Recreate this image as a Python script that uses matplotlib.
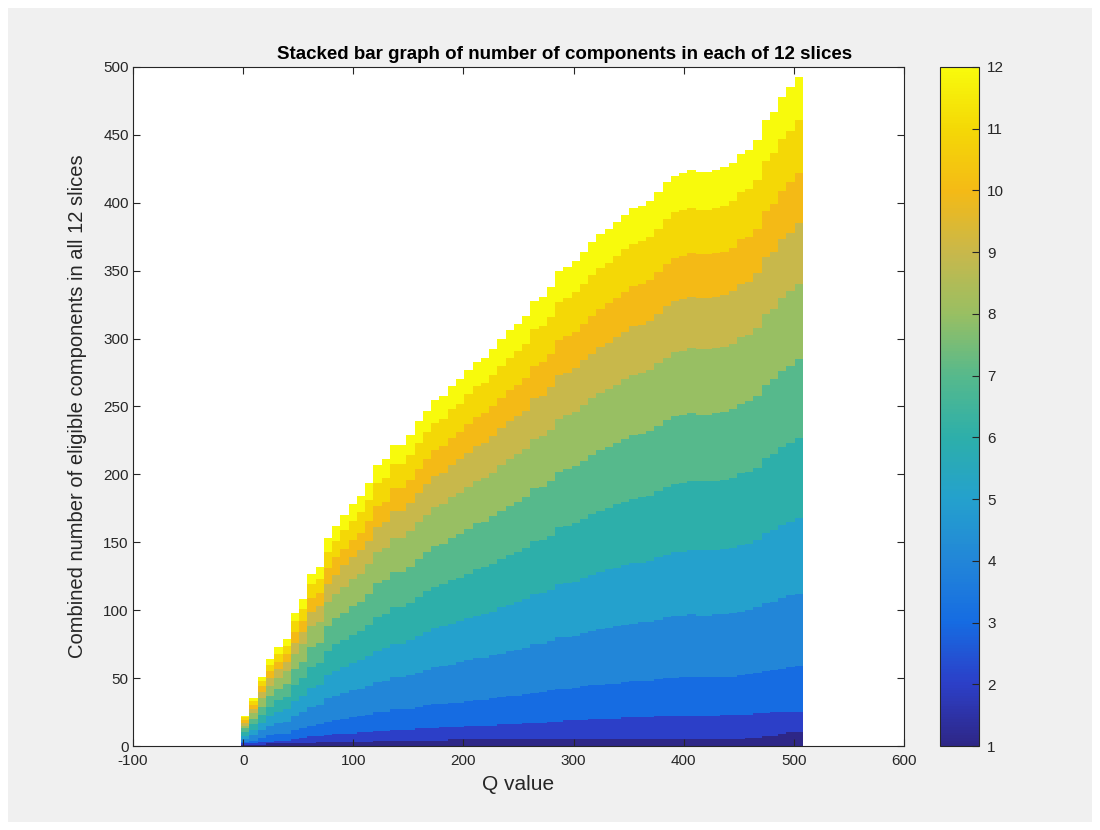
import matplotlib
matplotlib.use("Agg")
import matplotlib.pyplot as plt
from matplotlib.colors import LinearSegmentedColormap, Normalize
from matplotlib.cm import ScalarMappable
from matplotlib.patches import Rectangle

plt.rcParams['font.family'] = ['Liberation Sans', 'DejaVu Sans']
plt.rcParams['axes.unicode_minus'] = False

# Q values (bar positions)
q_values = [2, 9.5, 17, 24.5, 32, 39.5, 47, 54.5, 62, 69.5, 77, 84.5, 92, 99.5, 107, 114.5,
            122, 129.5, 137, 144.5, 152, 159.5, 167, 174.5, 182, 189.5, 197, 204.5, 212, 219.5,
            227, 234.5, 242, 249.5, 257, 264.5, 272, 279.5, 287, 294.5, 302, 309.5, 317, 324.5,
            332, 339.5, 347, 354.5, 362, 369.5, 377, 384.5, 392, 399.5, 407, 414.5, 422, 429.5,
            437, 444.5, 452, 459.5, 467, 474.5, 482, 489.5, 497, 504.5]

# cumulative count at the top of each slice (slice 1 .. slice 11), and the total (top of slice 12)
top_slice1 = [1, 1, 1, 2, 2, 2, 2, 2, 2, 3, 3, 3, 3, 3, 3, 3, 4, 4, 4, 4, 4, 4, 4, 4, 4,
              5, 5, 5, 5, 5, 5, 5, 5, 5, 5, 5, 5, 5, 5, 5, 5, 5, 5, 5, 5, 5, 5, 5, 5, 5,
              5, 5, 5, 5, 5, 5, 5, 5, 5, 5, 5, 6, 6, 7, 7, 9, 10, 10]
top_slice2 = [2, 2, 3, 3, 4, 4, 5, 6, 7, 7, 8, 9, 9, 9, 10, 10, 11, 11, 12, 12, 12, 13, 13, 13,
              14, 14, 14, 15, 15, 15, 15, 16, 16, 16, 17, 17, 17, 18, 18, 19, 19, 19, 20, 20,
              20, 20, 21, 21, 21, 21, 22, 22, 22, 22, 22, 22, 22, 22, 23, 23, 23, 23, 24, 24,
              25, 25, 25, 25]
top_slice3 = [3, 4, 6, 8, 9, 9, 12, 13, 15, 16, 18, 19, 20, 21, 22, 23, 25, 25, 27, 27, 27, 29,
              30, 31, 31, 32, 32, 33, 34, 34, 35, 36, 37, 37, 38, 39, 40, 41, 42, 42, 43, 44,
              45, 45, 46, 46, 47, 48, 48, 48, 49, 50, 50, 51, 51, 51, 51, 51, 51, 51, 52, 53,
              54, 55, 56, 57, 58, 59]
top_slice4 = [5, 8, 12, 15, 17, 18, 22, 25, 29, 30, 35, 37, 39, 41, 42, 44, 47, 48, 51, 51, 52,
              54, 56, 58, 59, 60, 62, 63, 65, 65, 67, 68, 70, 71, 72, 75, 75, 77, 80, 80, 81,
              83, 85, 86, 87, 88, 89, 90, 91, 91, 93, 95, 96, 96, 97, 96, 96, 97, 97, 98, 99,
              100, 102, 105, 106, 109, 111, 112]
top_slice5 = [7, 12, 17, 22, 25, 27, 33, 37, 43, 45, 52, 55, 58, 61, 63, 66, 70, 72, 75, 75, 78,
              81, 84, 87, 88, 90, 92, 94, 96, 97, 99, 102, 104, 106, 108, 112, 113, 115, 119,
              120, 121, 124, 126, 128, 130, 131, 133, 135, 135, 136, 139, 141, 143, 143, 144,
              144, 144, 144, 145, 146, 148, 149, 152, 157, 159, 163, 165, 168]
top_slice6 = [10, 16, 23, 29, 34, 36, 45, 50, 58, 61, 70, 75, 78, 82, 85, 89, 95, 97, 102, 102,
              105, 110, 114, 117, 119, 122, 124, 127, 130, 132, 134, 138, 141, 143, 146, 151,
              152, 155, 161, 162, 164, 167, 171, 173, 175, 178, 180, 182, 183, 184, 188, 191,
              193, 194, 195, 195, 195, 195, 196, 197, 201, 202, 205, 212, 215, 220, 223, 227]
top_slice7 = [13, 20, 29, 37, 42, 46, 57, 62, 73, 76, 88, 94, 98, 103, 106, 112, 120, 122, 128,
              128, 132, 138, 143, 147, 149, 153, 156, 160, 164, 165, 169, 173, 177, 180, 183,
              190, 191, 195, 202, 204, 206, 210, 214, 218, 220, 223, 226, 229, 230, 232, 236,
              240, 243, 244, 245, 244, 244, 245, 246, 248, 252, 254, 258, 266, 270, 276, 280, 285]
top_slice8 = [15, 24, 35, 44, 50, 55, 68, 75, 88, 91, 106, 112, 117, 123, 127, 134, 143, 146,
              153, 153, 158, 165, 170, 176, 178, 183, 186, 191, 195, 197, 201, 207, 211, 215,
              219, 226, 228, 233, 241, 244, 246, 251, 256, 260, 263, 266, 270, 273, 275, 277,
              282, 286, 290, 291, 293, 292, 292, 293, 294, 296, 301, 303, 308, 318, 322, 330,
              335, 340]
top_slice9 = [17, 27, 40, 50, 57, 62, 76, 84, 99, 103, 119, 126, 133, 139, 144, 151, 161, 165,
              173, 173, 179, 186, 193, 199, 201, 207, 211, 216, 221, 223, 228, 234, 239, 243,
              247, 256, 258, 264, 273, 275, 278, 284, 289, 294, 297, 301, 305, 309, 310, 313,
              318, 324, 328, 329, 331, 330, 330, 331, 332, 335, 340, 342, 348, 360, 364, 373,
              378, 385]
top_slice10 = [19, 30, 44, 55, 62, 68, 84, 92, 109, 113, 131, 139, 145, 152, 157, 166, 177, 180,
               190, 190, 196, 204, 211, 218, 221, 227, 231, 237, 242, 245, 250, 256, 262, 266,
               271, 280, 283, 289, 299, 302, 305, 311, 317, 322, 326, 330, 334, 339, 340, 343,
               349, 355, 359, 361, 363, 362, 362, 363, 364, 367, 373, 375, 381, 394, 399, 409,
               415, 422]
top_slice11 = [21, 33, 48, 60, 68, 74, 92, 101, 119, 123, 143, 151, 159, 166, 172, 181, 194, 197,
               208, 208, 214, 223, 231, 238, 241, 248, 252, 259, 265, 267, 273, 280, 286, 291,
               296, 307, 309, 316, 327, 330, 334, 340, 347, 352, 356, 361, 366, 370, 372, 375,
               381, 388, 393, 395, 396, 395, 395, 396, 398, 401, 408, 410, 417, 431, 437, 447,
               453, 461]
totals = [22, 35, 51, 64, 73, 79, 98, 108, 127, 132, 153, 162, 170, 178, 184, 194, 207, 211,
          222, 222, 229, 239, 247, 255, 258, 265, 270, 277, 283, 286, 292, 300, 306, 311, 317,
          328, 331, 338, 350, 353, 357, 364, 371, 377, 381, 386, 391, 396, 398, 401, 408, 415,
          420, 422, 424, 423, 423, 424, 426, 429, 436, 439, 446, 461, 467, 478, 485, 493]

slice_tops = [top_slice1, top_slice2, top_slice3, top_slice4, top_slice5, top_slice6,
              top_slice7, top_slice8, top_slice9, top_slice10, top_slice11, totals]

slice_colors = ['#2E2787', '#2C3FC8', '#166CE2', '#2286D8', '#24A1CD', '#2DAFAA',
                '#56B98C', '#98BF63', '#C8B84B', '#F4BA16', '#F4D806', '#F8FA0C']

fig = plt.figure(figsize=(11, 8.3), dpi=100, facecolor='white')
fig.patches.append(Rectangle((8 / 1100, 8 / 830), 1084 / 1100, 814 / 830,
                             transform=fig.transFigure, facecolor='#F0F0F0',
                             edgecolor='none', zorder=-10))

ax = fig.add_axes([133 / 1100, 84 / 830, 771 / 1100, 679 / 830])
ax.set_facecolor('white')

prev = [0] * len(q_values)
for tops, col in zip(slice_tops, slice_colors):
    heights = [t - b for t, b in zip(tops, prev)]
    ax.bar(q_values, heights, bottom=prev, width=7.5, color=col, edgecolor='none',
           linewidth=0, antialiased=False, align='center')
    prev = tops

ax.set_xlim(-100, 600)
ax.set_ylim(0, 500)
ax.set_xticks(range(-100, 601, 100))
ax.set_yticks(range(0, 501, 50))
ax.tick_params(direction='in', top=True, right=True, length=5, width=0.8,
               colors='#262626', labelsize=11, labelcolor='#262626', pad=3)
ax.tick_params(axis='x', pad=6)
for sp in ax.spines.values():
    sp.set_color('#262626')
    sp.set_linewidth(0.8)

ax.set_title('Stacked bar graph of number of components in each of 12 slices',
             fontsize=13.5, fontweight='bold', color='black', pad=6, x=0.56)
ax.set_xlabel('Q value', fontsize=15, color='#262626', labelpad=5)
ax.set_ylabel('Combined number of eligible components in all 12 slices', fontsize=14.5,
              color='#262626', labelpad=12)

# colorbar
cmap = LinearSegmentedColormap.from_list('parula12', slice_colors)
cax = fig.add_axes([940 / 1100, 84 / 830, 39 / 1100, 679 / 830])
sm = ScalarMappable(norm=Normalize(1, 12), cmap=cmap)
cb = fig.colorbar(sm, cax=cax, ticks=range(1, 13))
cb.outline.set_edgecolor('#262626')
cb.outline.set_linewidth(0.8)
cax.tick_params(direction='in', length=5, width=0.8, colors='#262626', labelsize=11,
                labelcolor='#262626', pad=6)

fig.savefig('out.png', dpi=100, facecolor=fig.get_facecolor())
